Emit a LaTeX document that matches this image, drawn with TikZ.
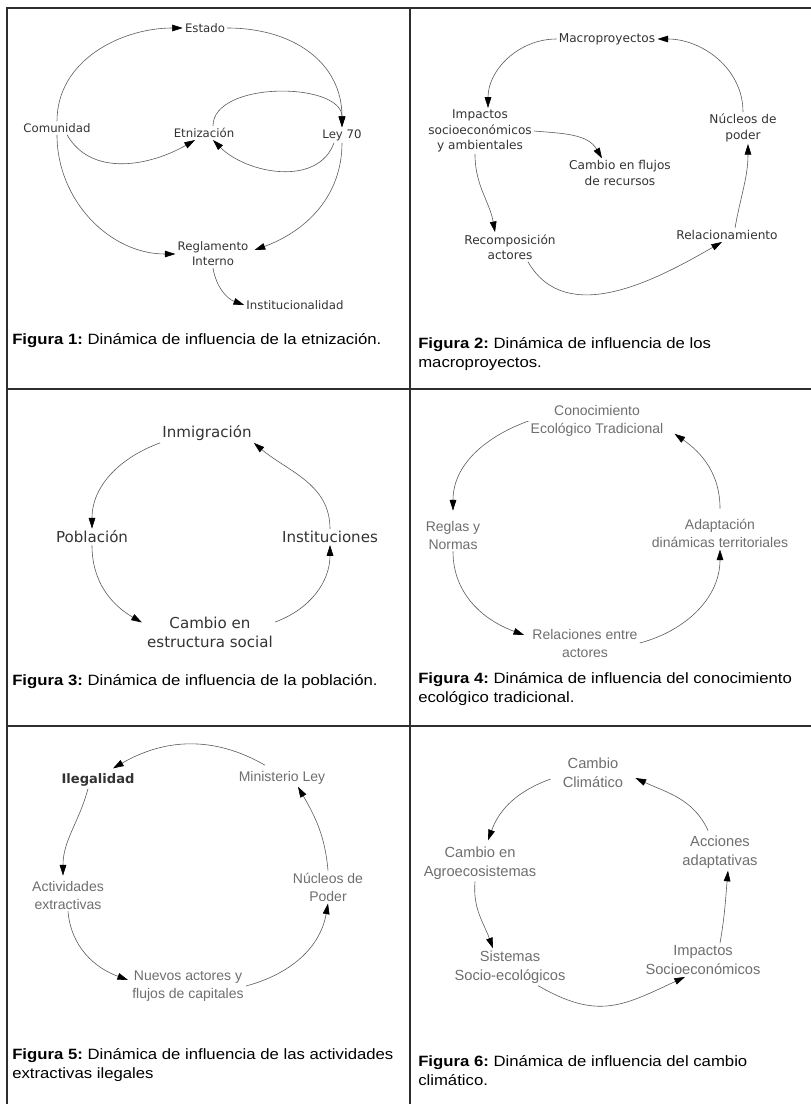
\documentclass[tikz,border=0pt]{standalone}
\usepackage{fontspec}
\setmainfont{Liberation Sans}
\newfontfamily\dvfont{DejaVu Sans}
\newfontfamily\capfont[FakeStretch=1.12]{Liberation Sans}
\usetikzlibrary{arrows.meta,calc}
\definecolor{dkink}{HTML}{333333}
\definecolor{ltink}{HTML}{6E6E6E}
\definecolor{wire}{HTML}{5A5A5A}
\definecolor{frame}{HTML}{2E2E2E}
\frenchspacing

\begin{document}
\begin{tikzpicture}[
  x=0.75pt, y=-0.75pt,
  lab/.style={align=center, inner sep=1.5pt},
  labA/.style={lab, text=dkink, font=\dvfont\fontsize{8.8}{11.2}\selectfont},
  labB/.style={lab, text=dkink, font=\dvfont\fontsize{9.1}{11.4}\selectfont},
  labC/.style={lab, text=dkink, font=\dvfont\fontsize{11.3}{14.2}\selectfont},
  labD/.style={lab, text=ltink, font=\fontsize{10.5}{13.5}\selectfont},
  labE/.style={lab, text=ltink, font=\fontsize{11}{14.3}\selectfont},
  figcap/.style={anchor=base west, align=left, inner sep=0pt, text=black,
                 font=\capfont\fontsize{11.2}{14}\selectfont},
  arr/.style={wire, line width=0.45pt, -{Triangle[length=8pt,width=5pt,color=black]}},
  panelrule/.style={frame, line width=1.2pt}
]
\useasboundingbox (0,0) rectangle (811,1104);

% table frame
\draw[panelrule] (7,1104) -- (7,8) -- (811,8);
\draw[panelrule] (410,8) -- (410,1104);
\draw[panelrule] (7,389) -- (811,389);
\draw[panelrule] (7,726) -- (811,726);

% Figura 1
\node[labA] (est) at (205,28) {Estado};
\node[labA] (com) at (57,128) {Comunidad};
\node[labA] (etn) at (204,133) {Etnización};
\node[labA] (ley) at (342,135) {Ley 70};
\node[labA] (regi) at (213,254) {Reglamento\\Interno};
\node[labA] (inst) at (295,305) {Institucionalidad};

\draw[arr] (com.north) to[out=90,in=180] (est.west);
\draw[arr] (est.east) to[out=0,in=90,looseness=1.1] (ley.north);
\draw[arr] ($(etn.north)+(9,0)$) to[out=90,in=90,looseness=0.9] (ley.north);
\draw[arr] ($(ley.south)+(-8,0)$) to[out=-110,in=-45] ($(etn.south)+(9,0)$);
\draw[arr] ($(com.south)+(10,0)$) to[out=-60,in=-150] ($(etn.south)+(-9,0)$);
\draw[arr] (com.south) to[out=-90,in=180] (regi.west);
\draw[arr] (ley.south) to[out=-90,in=20] ($(regi.east)+(4,-4)$);
\draw[arr] (regi.south) to[out=-80,in=160] (inst.west);

\node[figcap] (f1) at (12,344) {\textbf{Figura 1:} Dinámica de influencia de la etnización.};

% Figura 2
\node[labB] (mac) at (607,39) {Macroproyectos};
\node[labB] (imp) at (480,131) {Impactos\\socioeconómicos\\y ambientales};
\node[labB] (flu) at (620,173) {Cambio en flujos\\de recursos};
\node[labB] (nuc) at (743,128) {Núcleos de\\poder};
\node[labB] (rel) at (727,235) {Relacionamiento};
\node[labB] (rec) at (510,247) {Recomposición\\actores};

\draw[arr] (nuc.north) to[out=90,in=0] (mac.east);
\draw[arr] (mac.west) to[out=180,in=90] ($(imp.north)+(8,0)$);
\draw[arr] (imp.east) to[out=-5,in=120] ($(flu.north)+(-18,0)$);
\draw[arr] ($(imp.south)+(-5,0)$) to[out=-90,in=100] ($(rec.north)+(-15,0)$);
\draw[arr] ($(rec.south)+(18,0)$) to[out=-60,in=-150] ($(rel.south)+(-5,0)$);
\draw[arr] ($(rel.north)+(8,0)$) to[out=80,in=-90] ($(nuc.south)+(5,0)$);

\node[figcap] (f2) at (418,367) {\textbf{Figura 2:} Dinámica de influencia de los\\macroproyectos.};

% Figura 3
\node[labC] (inm) at (207,433) {Inmigración};
\node[labC] (pob) at (92,537) {Población};
\node[labC] (ins) at (330,537) {Instituciones};
\node[labC] (soc) at (210,632) {Cambio en\\estructura social};

\draw[arr] (ins.north) to[out=90,in=-40] (inm.south east);
\draw[arr] (inm.south west) to[out=-160,in=90] (pob.north);
\draw[arr] (pob.south) to[out=-90,in=150] ($(soc.north west)+(-3,8)$);
\draw[arr] ($(soc.east)+(0,-10)$) to[out=20,in=-90] (ins.south);

\node[figcap] (f3) at (12,685) {\textbf{Figura 3:} Dinámica de influencia de la población.};

% Figura 4
\node[labD] (tek) at (597,421) {Conocimiento\\Ecológico Tradicional};
\node[labD] (nor) at (453,535) {Reglas y\\Normas};
\node[labD] (ada) at (720,533) {Adaptación\\dinámicas territoriales};
\node[labD] (rac) at (585,643) {Relaciones entre\\actores};

\draw[arr] ($(ada.north)+(0,-8)$) to[out=90,in=-35] ($(tek.south east)+(9,-5)$);
\draw[arr] (tek.west) to[out=-160,in=90] ($(nor.north)+(0,-8)$);
\draw[arr] (nor.south) to[out=-90,in=160] ($(rac.west)+(-6,-8)$);
\draw[arr] (rac.east) to[out=15,in=-90] (ada.south);

\node[figcap] (f4) at (418,702) {\textbf{Figura 4:} Dinámica de influencia del conocimiento\\ecológico tradicional.};

% Figura 5
\node[lab, text=dkink, font=\dvfont\bfseries\fontsize{9.8}{12}\selectfont] (ile) at (98,780) {Ilegalidad};
\node[labD] (min) at (282,778) {Ministerio Ley};
\node[labD] (act) at (68,895) {Actividades\\extractivas};
\node[labD] (npo) at (328,887) {Núcleos de\\Poder};
\node[labD] (nue) at (188,986) {Nuevos actores y\\flujos de capitales};

\draw[arr] ($(min.north)+(-17,-4)$) to[out=150,in=30] ($(ile.north)+(15,-3)$);
\draw[arr] ($(ile.south)+(-10,0)$) to[out=-105,in=90] ($(act.north)+(-5,-3)$);
\draw[arr] (act.south) to[out=-85,in=160] ($(nue.west)+(-2,-6)$);
\draw[arr] (nue.east) to[out=15,in=-100] (npo.south);
\draw[arr] (npo.north) to[out=95,in=-60] ($(min.south)+(16,0)$);

\node[figcap] (f5) at (12,1078) {\textbf{Figura 5:} Dinámica de influencia de las actividades\\extractivas ilegales};

% Figura 6
\node[labE] (ccl) at (593,773) {Cambio\\Climático};
\node[labE] (agr) at (480,863) {Cambio en\\Agroecosistemas};
\node[labE] (acc) at (720,852) {Acciones\\adaptativas};
\node[labE] (sse) at (510,967) {Sistemas\\Socio-ecológicos};
\node[labE] (ise) at (703,960) {Impactos\\Socioeconómicos};

\draw[arr] ($(acc.north)+(-12,-3)$) to[out=115,in=-25] ($(ccl.east)+(10,5)$);
\draw[arr] ($(ccl.west)+(-10,6)$) to[out=-160,in=70] ($(agr.north)+(8,-4)$);
\draw[arr] ($(agr.south)+(-5,0)$) to[out=-95,in=110] ($(sse.north)+(-17,0)$);
\draw[arr] ($(sse.south)+(28,0)$) to[out=-30,in=-155,looseness=1.2] ($(ise.south)+(-18,0)$);
\draw[arr] ($(ise.north)+(17,0)$) to[out=80,in=-95] ($(acc.south)+(8,0)$);

\node[figcap] (f6) at (418,1085) {\textbf{Figura 6:} Dinámica de influencia del cambio\\climático.};

\end{tikzpicture}
\end{document}
